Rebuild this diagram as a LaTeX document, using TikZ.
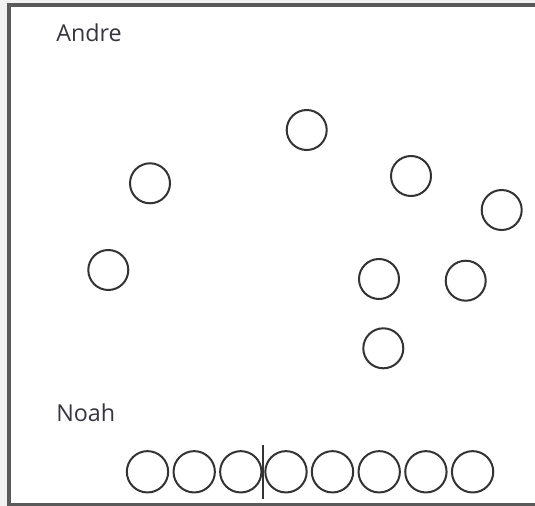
\documentclass[tikz,border=0pt]{standalone}
\usepackage{fontspec}
\setmainfont{Open Sans}
\definecolor{pagebg}{HTML}{F2F2F2}
\definecolor{framec}{HTML}{5A5A5A}
\definecolor{labelc}{HTML}{363640}
\definecolor{ringc}{HTML}{333333}
\begin{document}
\begin{tikzpicture}[x=0.75pt,y=-0.75pt,
  ring/.style={circle,draw=ringc,line width=1.5pt,minimum size=30pt,inner sep=0pt},
  bring/.style={circle,draw=ringc,line width=1.5pt,minimum size=31pt,inner sep=0pt},
  who/.style={anchor=base west,inner sep=0pt,text=labelc,font=\fontsize{17.5}{20}\selectfont}]
\useasboundingbox (0,0) rectangle (535,506);
\clip (0,0) rectangle (535,506);
\fill[pagebg] (0,0) rectangle (535,506);
\draw[framec,fill=white,line width=3pt] (9.3,5.3) rectangle (560,504.5);
\node[who] (andre) at (56,42) {Andre};
\node[who] (noah) at (56,421) {Noah};
\node[ring] (c1) at (306.7,130) {};
\node[ring] (c2) at (150,183.3) {};
\node[ring] (c3) at (411,176) {};
\node[ring] (c4) at (501.7,210) {};
\node[ring] (c5) at (108.3,270) {};
\node[ring] (c6) at (379,279) {};
\node[ring] (c7) at (465.7,280.7) {};
\node[ring] (c8) at (383.3,348.3) {};
\foreach \i/\xx in {0/147.5,1/194.2,2/240.8,3/286,4/332.5,5/379.2,6/425.9,7/472.6} {
  \node[bring] (b\i) at (\xx,471.8) {};
}
\coordinate (divtop) at (263,445);
\coordinate (divbot) at (263,499);
\draw[ringc,line width=1.5pt] (divtop) -- (divbot);
\end{tikzpicture}
\end{document}
